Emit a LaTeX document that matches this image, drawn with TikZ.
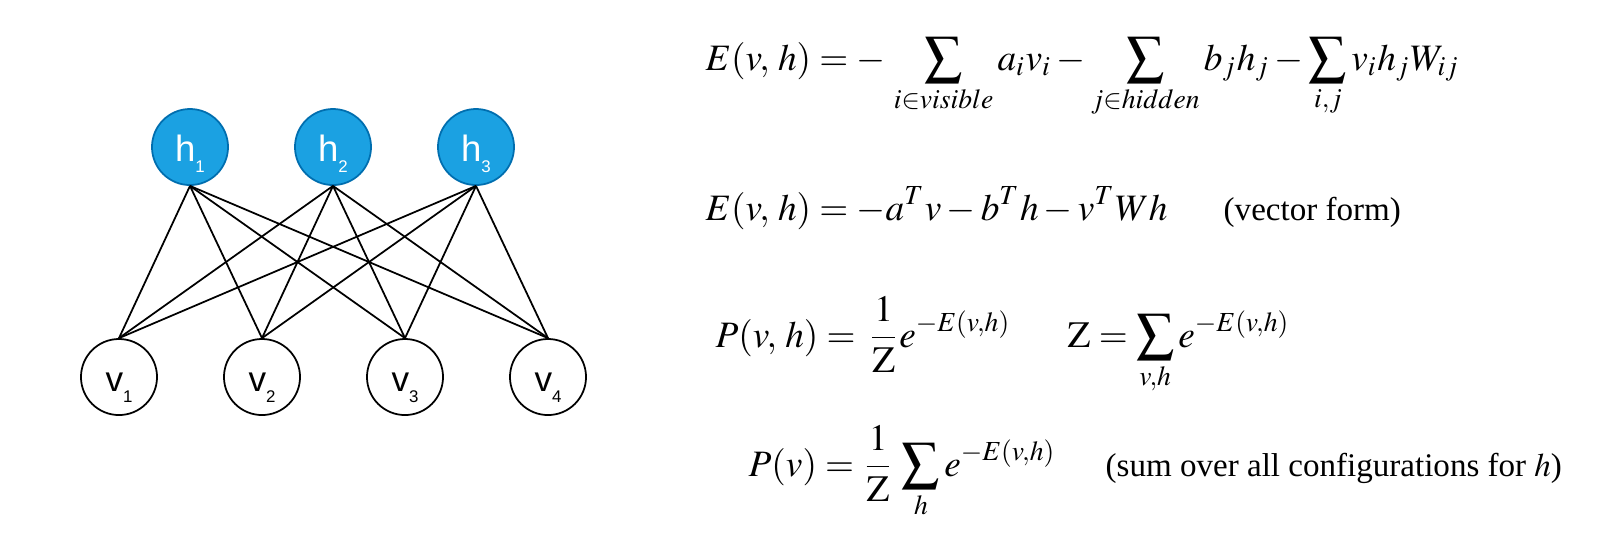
\documentclass[tikz,border=0pt]{standalone}
\usepackage{mathptmx}
\usepackage{fontspec}
\setmainfont{Liberation Serif}
\setsansfont{Liberation Sans}

\definecolor{hidfill}{HTML}{1BA1E2}
\definecolor{hiddraw}{HTML}{006EAF}
\newcommand{\unitlab}[2]{#1\raisebox{-3.3pt}{\fontsize{4.8}{5}\selectfont #2}}

\begin{document}
\begin{tikzpicture}[
    x=0.01cm, y=-0.01cm,
    hidden/.style={circle,draw=hiddraw,fill=hidfill,text=white,minimum size=0.76cm,inner sep=0pt,line width=0.5pt,font=\sffamily\fontsize{10.4}{12}\selectfont,text height=8pt,text depth=0pt},
    visible/.style={circle,draw=black,fill=white,minimum size=0.76cm,inner sep=0pt,line width=0.5pt,font=\sffamily\fontsize{10}{12}\selectfont,text height=8pt,text depth=0pt},
    link/.style={black,line width=0.5pt},
    eqn/.style={anchor=base west,inner sep=0pt,font=\fontsize{10.6}{12}\selectfont},
    note/.style={anchor=base west,inner sep=0pt,font=\fontsize{9.4}{11}\selectfont},
    ]
    \useasboundingbox (0,0) rectangle (1600,547);
    \node[hidden] (h1) at (190,147) {\unitlab{h}{1}};
    \node[hidden] (h2) at (333,147) {\unitlab{h}{2}};
    \node[hidden] (h3) at (476,147) {\unitlab{h}{3}};
    \node[visible] (v1) at (119,377) {\unitlab{v}{1}};
    \node[visible] (v2) at (262,377) {\unitlab{v}{2}};
    \node[visible] (v3) at (405,377) {\unitlab{v}{3}};
    \node[visible] (v4) at (548,377) {\unitlab{v}{4}};
    \draw[link] (h1.south) -- (v1.north);
    \draw[link] (h1.south) -- (v2.north);
    \draw[link] (h1.south) -- (v3.north);
    \draw[link] (h1.south) -- (v4.north);
    \draw[link] (h2.south) -- (v1.north);
    \draw[link] (h2.south) -- (v2.north);
    \draw[link] (h2.south) -- (v3.north);
    \draw[link] (h2.south) -- (v4.north);
    \draw[link] (h3.south) -- (v1.north);
    \draw[link] (h3.south) -- (v2.north);
    \draw[link] (h3.south) -- (v3.north);
    \draw[link] (h3.south) -- (v4.north);
    \node[eqn] (energy) at (705,70) {$\displaystyle E(v,\,h) = -\,\sum_{i\in visible} a_i v_i - \sum_{j\in hidden} b_j h_j - \sum_{i,j} v_i h_j W_{ij}$};
    \node[eqn] (energyvec) at (705,220) {$\displaystyle E(v,\,h) = -a^T v - b^T h - v^T W h$};
    \node[note] (vecnote) at (1223,220) {(vector form)};
    \node[eqn] (joint) at (715,347) {$\displaystyle P(v,\,h) = \,\frac{1}{\mathrm{Z}} e^{-E(v,h)}$};
    \node[eqn] (partition) at (1067,347) {$\displaystyle \mathrm{Z} = \sum_{v,h} e^{-E(v,h)}$};
    \node[eqn] (marginal) at (748,476) {$\displaystyle P(v) = \frac{1}{\mathrm{Z}}\, \sum_h e^{-E(v,h)}$};
    \node[note] (sumnote) at (1105,476) {(sum over all configurations for $h$)};
\end{tikzpicture}
\end{document}
